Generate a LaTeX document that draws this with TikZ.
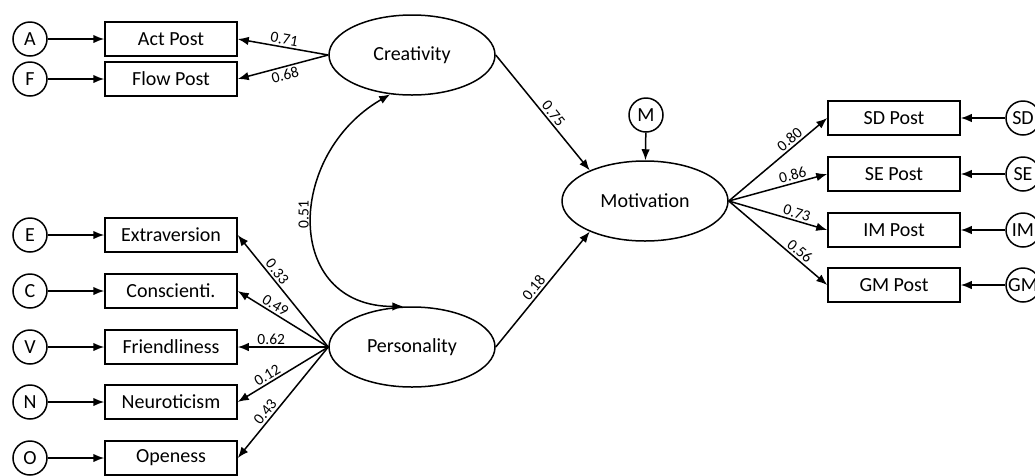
\documentclass[tikz,border=0pt]{standalone}
\usepackage{fontspec}
\setmainfont{Carlito}
\usetikzlibrary{arrows.meta}
\usetikzlibrary{shapes.geometric}

\begin{document}
\begin{tikzpicture}[x=1pt,y=-1pt,line width=1.5pt,>={Latex[length=11pt,width=8.5pt]},
    obs/.style={draw,rectangle,minimum width=132pt,minimum height=34pt,inner sep=0pt,font=\fontsize{20}{24}\selectfont},
    lat/.style={draw,ellipse,minimum width=166pt,minimum height=80pt,inner sep=0pt,font=\fontsize{20}{24}\selectfont},
    err/.style={draw,circle,minimum size=34pt,inner sep=0pt,font=\fontsize{20}{24}\selectfont},
    coef/.style={sloped,inner sep=2pt,font=\fontsize{15.5}{18}\selectfont}]
  \useasboundingbox (0,0) rectangle (1035,475);
  % latent variables
  \node[lat] (crea) at (412,55) {Creativity};
  \node[lat] (pers) at (412,347) {Personality};
  \node[lat] (moti) at (645,201) {Motivation};
  \node[err] (m) at (646,115) {M};
  % creativity indicators
  \node[obs] (act) at (171,39) {Act Post};
  \node[obs] (flow) at (171,79) {Flow Post};
  \node[err] (a) at (30,39) {A};
  \node[err] (f) at (30,79) {F};
  % personality indicators
  \node[obs] (extra) at (171,235) {Extraversion};
  \node[obs] (consc) at (171,291) {Conscienti.};
  \node[obs] (friend) at (171,347) {Friendliness};
  \node[obs] (neuro) at (171,402) {Neuroticism};
  \node[obs] (open) at (171,458) {Openess};
  \node[err] (e) at (30,235) {E};
  \node[err] (c) at (30,291) {C};
  \node[err] (v) at (30,347) {V};
  \node[err] (n) at (30,402) {N};
  \node[err] (o) at (30,458) {O};
  % motivation indicators
  \node[obs] (sd) at (894,118) {SD Post};
  \node[obs] (se) at (894,174) {SE Post};
  \node[obs] (im) at (894,230) {IM Post};
  \node[obs] (gm) at (894,285) {GM Post};
  \node[err] (sde) at (1023,118) {SD};
  \node[err] (see) at (1023,174) {SE};
  \node[err] (ime) at (1023,230) {IM};
  \node[err] (gme) at (1023,285) {GM};

  \draw[->] (a) -- (act);
  \draw[->] (f) -- (flow);
  \draw[->] (crea.west) -- node[coef,above] {0.71} (act.east);
  \draw[->] (crea.west) -- node[coef,below] {0.68} (flow.east);

  \draw[->] (e) -- (extra);
  \draw[->] (c) -- (consc);
  \draw[->] (v) -- (friend);
  \draw[->] (n) -- (neuro);
  \draw[->] (o) -- (open);
  \draw[->] (pers.west) -- node[coef,above,pos=0.63] {0.33} (extra.east);
  \draw[->] (pers.west) -- node[coef,above,pos=0.63] {0.49} (consc.east);
  \draw[->] (pers.west) -- node[coef,above,pos=0.63] {0.62} (friend.east);
  \draw[->] (pers.west) -- node[coef,above,pos=0.63] {0.12} (neuro.east);
  \draw[->] (pers.west) -- node[coef,above,pos=0.63] {0.43} (open.east);

  \draw[<->] (pers.102) to[out=180,in=210,looseness=1.45]
    node[pos=0.53,rotate=90,anchor=south,inner sep=3pt,font=\fontsize{15.5}{18}\selectfont] {0.51} (crea.241);
  \draw[->] (crea.east) -- node[coef,above,pos=0.55] {0.75} (moti.151);
  \draw[->] (pers.east) -- node[coef,above,pos=0.47] {0.18} (moti.209);
  \draw[->] (m) -- (moti);

  \draw[->] (moti.east) -- node[coef,above,pos=0.67] {0.80} (sd.west);
  \draw[->] (moti.east) -- node[coef,above,pos=0.67] {0.86} (se.west);
  \draw[->] (moti.east) -- node[coef,above,pos=0.67] {0.73} (im.west);
  \draw[->] (moti.east) -- node[coef,above,pos=0.67] {0.56} (gm.west);
  \draw[->] (sde) -- (sd);
  \draw[->] (see) -- (se);
  \draw[->] (ime) -- (im);
  \draw[->] (gme) -- (gm);
\end{tikzpicture}
\end{document}
